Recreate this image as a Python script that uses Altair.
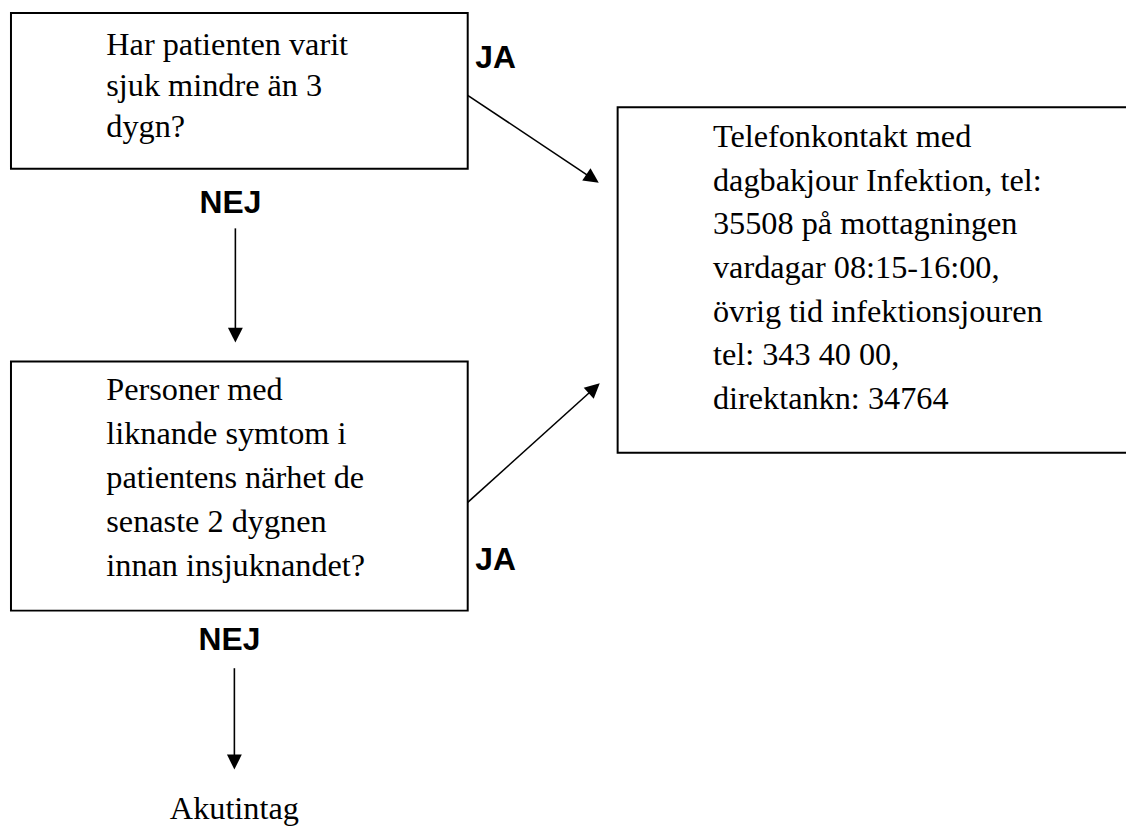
import math
import altair as alt
import pandas as pd

# ---- content ----
box_names = ["q1", "contact", "q2"]
box_x1 = [11, 622, 11]
box_x2 = [471, 1160, 471]
box_y1 = [10, 105, 361]
box_y2 = [167, 453, 612]

q1_lines = ["Har patienten varit", "sjuk mindre än 3", "dygn?"]
contact_lines = [
    "Telefonkontakt med",
    "dagbakjour Infektion, tel:",
    "35508 på mottagningen",
    "vardagar 08:15-16:00,",
    "övrig tid infektionsjouren",
    "tel: 343 40 00,",
    "direktankn: 34764",
]
q2_lines = [
    "Personer med",
    "liknande symtom i",
    "patientens närhet de",
    "senaste 2 dygnen",
    "innan insjuknandet?",
]
end_label = "Akutintag"

answer_labels = ["JA", "NEJ", "JA", "NEJ"]
answer_x = [499, 232, 499, 231]
answer_y = [65, 212, 571, 652]

arrow_x1 = [471, 237, 471, 236]
arrow_y1 = [93, 227, 503, 670]
arrow_x2 = [603, 237, 604, 236]
arrow_y2 = [181, 342, 383, 772]

# ---- tables ----
boxes = pd.DataFrame({"name": box_names, "x1": box_x1, "x2": box_x2,
                      "y1": box_y1, "y2": box_y2})

text_rows = []
for lines, x0, y0, dy in [(q1_lines, 107, 52, 41.5),
                          (contact_lines, 718, 145, 44),
                          (q2_lines, 107, 400, 44.2)]:
    for i, t in enumerate(lines):
        text_rows.append({"t": t, "x": x0, "y": y0 + i * dy})
text_rows.append({"t": end_label, "x": 171, "y": 822})
texts = pd.DataFrame(text_rows)

answers = pd.DataFrame({"t": answer_labels, "x": answer_x, "y": answer_y})

head_len = 15
rows = []
for xa, ya, xb, yb in zip(arrow_x1, arrow_y1, arrow_x2, arrow_y2):
    dx, dy = xb - xa, yb - ya
    L = math.hypot(dx, dy)
    ux, uy = dx / L, dy / L
    cx, cy = xb - ux * head_len / 2, yb - uy * head_len / 2
    ang = math.degrees(math.atan2(dx, -dy)) % 360
    rows.append({"x1": xa, "y1": ya, "x2": cx, "y2": cy,
                 "hx": cx, "hy": cy, "angle": ang})
arrows = pd.DataFrame(rows)

W, H = 1126, 820
xs = alt.Scale(domain=[8, 8 + W], nice=False, zero=False)
ys = alt.Scale(domain=[8, 8 + H], nice=False, zero=False, reverse=True)

box_layer = alt.Chart(boxes).mark_rect(
    fill="white", fillOpacity=0, stroke="black", strokeWidth=2, clip=True
).encode(
    x=alt.X("x1:Q", scale=xs, axis=None), x2="x2:Q",
    y=alt.Y("y1:Q", scale=ys, axis=None), y2="y2:Q",
)

line_layer = alt.Chart(arrows).mark_rule(color="black", strokeWidth=1.6).encode(
    x=alt.X("x1:Q", scale=xs, axis=None), x2="x2:Q",
    y=alt.Y("y1:Q", scale=ys, axis=None), y2="y2:Q",
)

head_layer = alt.Chart(arrows).mark_point(
    shape="M0,-1L1,1L-1,1Z", filled=True, fill="black", color="black",
    opacity=1, strokeWidth=0, size=head_len * head_len,
).encode(
    x=alt.X("hx:Q", scale=xs, axis=None),
    y=alt.Y("hy:Q", scale=ys, axis=None),
    angle=alt.Angle("angle:Q", scale=None),
)

text_layer = alt.Chart(texts).mark_text(
    align="left", baseline="alphabetic", font="Liberation Serif",
    fontSize=32.5, color="black",
).encode(
    x=alt.X("x:Q", scale=xs, axis=None),
    y=alt.Y("y:Q", scale=ys, axis=None),
    text="t:N",
)

answer_layer = alt.Chart(answers).mark_text(
    align="center", baseline="alphabetic", font="Liberation Sans",
    fontWeight="bold", fontSize=32, color="black",
).encode(
    x=alt.X("x:Q", scale=xs, axis=None),
    y=alt.Y("y:Q", scale=ys, axis=None),
    text="t:N",
)

chart = alt.layer(
    box_layer, line_layer, head_layer, text_layer, answer_layer
).properties(
    width=W, height=H, padding=0, autosize="none", background="white"
).configure_view(stroke=None)

chart.save("out.html", embed_options={"renderer": "svg", "actions": False})
